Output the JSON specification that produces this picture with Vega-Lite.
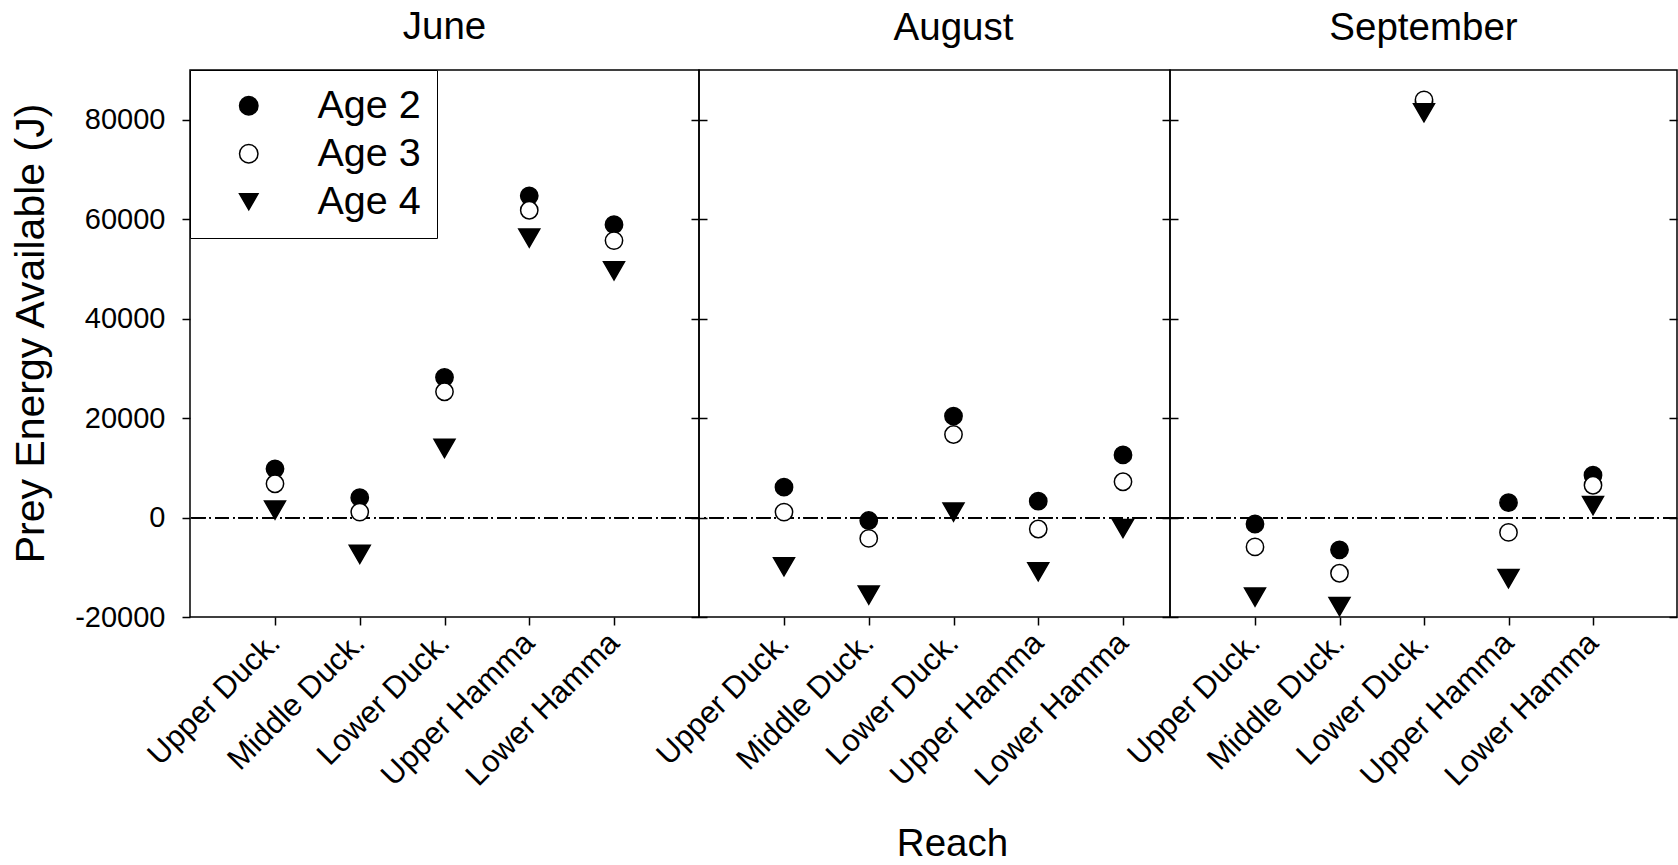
{
  "$schema": "https://vega.github.io/schema/vega-lite/v6.json",
  "background": "white",
  "padding": {"left": 9, "top": 7, "right": 0, "bottom": 0},
  "data": {"values": [
    {"month": "June", "reach": "Upper Duck.", "age": "Age 2", "energy": 9800},
    {"month": "June", "reach": "Upper Duck.", "age": "Age 3", "energy": 6800},
    {"month": "June", "reach": "Upper Duck.", "age": "Age 4", "energy": 1500},
    {"month": "June", "reach": "Middle Duck.", "age": "Age 2", "energy": 4000},
    {"month": "June", "reach": "Middle Duck.", "age": "Age 3", "energy": 1100},
    {"month": "June", "reach": "Middle Duck.", "age": "Age 4", "energy": -7400},
    {"month": "June", "reach": "Lower Duck.", "age": "Age 2", "energy": 28200},
    {"month": "June", "reach": "Lower Duck.", "age": "Age 3", "energy": 25300},
    {"month": "June", "reach": "Lower Duck.", "age": "Age 4", "energy": 13900},
    {"month": "June", "reach": "Upper Hamma", "age": "Age 2", "energy": 64700},
    {"month": "June", "reach": "Upper Hamma", "age": "Age 3", "energy": 61800},
    {"month": "June", "reach": "Upper Hamma", "age": "Age 4", "energy": 56200},
    {"month": "June", "reach": "Lower Hamma", "age": "Age 2", "energy": 58900},
    {"month": "June", "reach": "Lower Hamma", "age": "Age 3", "energy": 55700},
    {"month": "June", "reach": "Lower Hamma", "age": "Age 4", "energy": 49600},
    {"month": "August", "reach": "Upper Duck.", "age": "Age 2", "energy": 6100},
    {"month": "August", "reach": "Upper Duck.", "age": "Age 3", "energy": 1100},
    {"month": "August", "reach": "Upper Duck.", "age": "Age 4", "energy": -9900},
    {"month": "August", "reach": "Middle Duck.", "age": "Age 2", "energy": -600},
    {"month": "August", "reach": "Middle Duck.", "age": "Age 3", "energy": -4200},
    {"month": "August", "reach": "Middle Duck.", "age": "Age 4", "energy": -15600},
    {"month": "August", "reach": "Lower Duck.", "age": "Age 2", "energy": 20400},
    {"month": "August", "reach": "Lower Duck.", "age": "Age 3", "energy": 16700},
    {"month": "August", "reach": "Lower Duck.", "age": "Age 4", "energy": 1100},
    {"month": "August", "reach": "Upper Hamma", "age": "Age 2", "energy": 3300},
    {"month": "August", "reach": "Upper Hamma", "age": "Age 3", "energy": -2300},
    {"month": "August", "reach": "Upper Hamma", "age": "Age 4", "energy": -10900},
    {"month": "August", "reach": "Lower Hamma", "age": "Age 2", "energy": 12600},
    {"month": "August", "reach": "Lower Hamma", "age": "Age 3", "energy": 7200},
    {"month": "August", "reach": "Lower Hamma", "age": "Age 4", "energy": -2200},
    {"month": "September", "reach": "Upper Duck.", "age": "Age 2", "energy": -1300},
    {"month": "September", "reach": "Upper Duck.", "age": "Age 3", "energy": -5900},
    {"month": "September", "reach": "Upper Duck.", "age": "Age 4", "energy": -16000},
    {"month": "September", "reach": "Middle Duck.", "age": "Age 2", "energy": -6500},
    {"month": "September", "reach": "Middle Duck.", "age": "Age 3", "energy": -11200},
    {"month": "September", "reach": "Middle Duck.", "age": "Age 4", "energy": -17900},
    {"month": "September", "reach": "Lower Duck.", "age": "Age 2", "energy": 83600},
    {"month": "September", "reach": "Lower Duck.", "age": "Age 3", "energy": 84000},
    {"month": "September", "reach": "Lower Duck.", "age": "Age 4", "energy": 81400},
    {"month": "September", "reach": "Upper Hamma", "age": "Age 2", "energy": 3000},
    {"month": "September", "reach": "Upper Hamma", "age": "Age 3", "energy": -3000},
    {"month": "September", "reach": "Upper Hamma", "age": "Age 4", "energy": -12300},
    {"month": "September", "reach": "Lower Hamma", "age": "Age 2", "energy": 8500},
    {"month": "September", "reach": "Lower Hamma", "age": "Age 3", "energy": 6500},
    {"month": "September", "reach": "Lower Hamma", "age": "Age 4", "energy": 2400}
  ]},
  "spacing": 0,
  "bounds": "flush",
  "resolve": {"scale": {"shape": "independent", "fill": "independent", "stroke": "independent"}, "legend": {"shape": "independent", "fill": "independent", "stroke": "independent"}},
  "hconcat": [
    {
      "width": 509, "height": 547,
      "title": {"text": "June", "frame": "group", "anchor": "middle", "offset": -8, "baseline": "alphabetic"},
      "transform": [{"filter": "datum.month === 'June'"}],
      "resolve": {"axis": {"y": "independent"}},
      "layer": [
        {
          "mark": {"type": "rule", "strokeDash": [14, 4, 1.5, 4], "color": "black", "strokeWidth": 1.3},
          "encoding": {"y": {"datum": 0, "type": "quantitative", "scale": {"domain": [-20000, 90000], "nice": false, "zero": false},
            "axis": {"orient": "left", "values": [-20000, 0, 20000, 40000, 60000, 80000], "tickSize": 8, "labelPadding": 17, "labelExpr": "'' + datum.value",
              "title": "Prey Energy Available (J)", "titleFontSize": 41, "titleX": -147, "titleY": 263, "titleAlign": "center", "titleBaseline": "alphabetic", "titleAngle": 270}}}
        },
        {
          "mark": {"type": "point", "filled": false, "strokeWidth": 1.5, "opacity": 1},
          "encoding": {
            "x": {"field": "reach", "type": "nominal", "sort": ["Upper Duck.", "Middle Duck.", "Lower Duck.", "Upper Hamma", "Lower Hamma"],
              "scale": {"type": "point", "range": [85, 424], "padding": 0},
              "axis": {"orient": "bottom", "tickSize": 8, "labelAngle": -45, "labelAlign": "right", "labelBaseline": "middle", "labelPadding": 13, "labelFontSize": 31, "labelLimit": 400, "title": null}},
            "y": {"field": "energy", "type": "quantitative", "scale": {"domain": [-20000, 90000], "nice": false, "zero": false},
              "axis": {"orient": "right", "values": [-20000, 0, 20000, 40000, 60000, 80000], "tickSize": 8, "offset": -8, "labels": false, "title": null}},
            "shape": {"field": "age", "type": "nominal", "scale": {"domain": ["Age 2", "Age 3", "Age 4"], "range": ["circle", "circle", "triangle-down"]},
              "legend": {"orient": "top-left", "offset": 0, "title": null, "padding": 16, "rowPadding": 7, "symbolOffset": 23, "labelOffset": 49, "symbolSize": 340, "symbolStrokeWidth": 1.5, "labelFontSize": 39.5, "strokeColor": "black", "fillColor": "white"}},
            "fill": {"field": "age", "type": "nominal", "scale": {"domain": ["Age 2", "Age 3", "Age 4"], "range": ["black", "white", "black"]},
              "legend": {"orient": "top-left", "offset": 0, "title": null, "padding": 16, "rowPadding": 7, "symbolOffset": 23, "labelOffset": 49, "symbolSize": 340, "symbolStrokeWidth": 1.5, "labelFontSize": 39.5, "strokeColor": "black", "fillColor": "white"}},
            "stroke": {"field": "age", "type": "nominal", "scale": {"domain": ["Age 2", "Age 3", "Age 4"], "range": ["black", "black", "black"]},
              "legend": {"orient": "top-left", "offset": 0, "title": null, "padding": 16, "rowPadding": 7, "symbolOffset": 23, "labelOffset": 49, "symbolSize": 340, "symbolStrokeWidth": 1.5, "labelFontSize": 39.5, "strokeColor": "black", "fillColor": "white"}},
            "size": {"condition": {"test": "datum.age === 'Age 4'", "value": 441}, "value": 300}
          }
        }
      ]
    },
    {
      "width": 471, "height": 547,
      "title": {"text": "August", "frame": "group", "anchor": "middle", "offset": -8, "baseline": "alphabetic", "dx": 19},
      "transform": [{"filter": "datum.month === 'August'"}],
      "resolve": {"axis": {"y": "independent"}},
      "layer": [
        {
          "mark": {"type": "rule", "strokeDash": [14, 4, 1.5, 4], "color": "black", "strokeWidth": 1.3},
          "encoding": {"y": {"datum": 0, "type": "quantitative", "scale": {"domain": [-20000, 90000], "nice": false, "zero": false},
            "axis": {"orient": "left", "values": [-20000, 0, 20000, 40000, 60000, 80000], "tickSize": 8, "offset": -8, "labels": false, "title": null}}}
        },
        {
          "mark": {"type": "point", "filled": false, "stroke": "black", "strokeWidth": 1.5, "opacity": 1},
          "encoding": {
            "x": {"field": "reach", "type": "nominal", "sort": ["Upper Duck.", "Middle Duck.", "Lower Duck.", "Upper Hamma", "Lower Hamma"],
              "scale": {"type": "point", "range": [85, 424], "padding": 0},
              "axis": {"orient": "bottom", "tickSize": 8, "labelAngle": -45, "labelAlign": "right", "labelBaseline": "middle", "labelPadding": 13, "labelFontSize": 31, "labelLimit": 400,
                "title": "Reach", "titleFontSize": 38.5, "titleX": 253, "titleY": 238, "titleAlign": "center", "titleBaseline": "alphabetic"}},
            "y": {"field": "energy", "type": "quantitative", "scale": {"domain": [-20000, 90000], "nice": false, "zero": false},
              "axis": {"orient": "right", "values": [-20000, 0, 20000, 40000, 60000, 80000], "tickSize": 8, "offset": -8, "labels": false, "title": null}},
            "shape": {"field": "age", "type": "nominal", "scale": {"domain": ["Age 2", "Age 3", "Age 4"], "range": ["circle", "circle", "triangle-down"]}, "legend": null},
            "fill": {"field": "age", "type": "nominal", "scale": {"domain": ["Age 2", "Age 3", "Age 4"], "range": ["black", "white", "black"]}, "legend": null},
            "size": {"condition": {"test": "datum.age === 'Age 4'", "value": 441}, "value": 300}
          }
        }
      ]
    },
    {
      "width": 507, "height": 547,
      "title": {"text": "September", "frame": "group", "anchor": "middle", "offset": -8, "baseline": "alphabetic"},
      "transform": [{"filter": "datum.month === 'September'"}],
      "resolve": {"axis": {"y": "independent"}},
      "layer": [
        {
          "mark": {"type": "rule", "strokeDash": [14, 4, 1.5, 4], "color": "black", "strokeWidth": 1.3},
          "encoding": {"y": {"datum": 0, "type": "quantitative", "scale": {"domain": [-20000, 90000], "nice": false, "zero": false},
            "axis": {"orient": "left", "values": [-20000, 0, 20000, 40000, 60000, 80000], "tickSize": 8, "offset": -8, "labels": false, "title": null}}}
        },
        {
          "mark": {"type": "point", "filled": false, "stroke": "black", "strokeWidth": 1.5, "opacity": 1},
          "encoding": {
            "x": {"field": "reach", "type": "nominal", "sort": ["Upper Duck.", "Middle Duck.", "Lower Duck.", "Upper Hamma", "Lower Hamma"],
              "scale": {"type": "point", "range": [85, 423], "padding": 0},
              "axis": {"orient": "bottom", "tickSize": 8, "labelAngle": -45, "labelAlign": "right", "labelBaseline": "middle", "labelPadding": 13, "labelFontSize": 31, "labelLimit": 400, "title": null}},
            "y": {"field": "energy", "type": "quantitative", "scale": {"domain": [-20000, 90000], "nice": false, "zero": false},
              "axis": {"orient": "right", "values": [-20000, 0, 20000, 40000, 60000, 80000], "tickSize": 8, "offset": -8, "labels": false, "title": null}},
            "shape": {"field": "age", "type": "nominal", "scale": {"domain": ["Age 2", "Age 3", "Age 4"], "range": ["circle", "circle", "triangle-down"]}, "legend": null},
            "fill": {"field": "age", "type": "nominal", "scale": {"domain": ["Age 2", "Age 3", "Age 4"], "range": ["black", "white", "black"]}, "legend": null},
            "size": {"condition": {"test": "datum.age === 'Age 4'", "value": 441}, "value": 300}
          }
        }
      ]
    }
  ],
  "config": {
    "font": "Liberation Sans",
    "view": {"stroke": "black", "strokeWidth": 1.5},
    "axis": {"domain": false, "grid": false, "minExtent": 0, "tickColor": "black", "tickWidth": 1.5, "labelColor": "black", "titleColor": "black",
      "labelFont": "Liberation Sans", "titleFont": "Liberation Sans", "titleFontWeight": "normal", "labelFontSize": 29, "titleFontSize": 38.5},
    "title": {"font": "Liberation Sans", "fontSize": 38.5, "fontWeight": "normal", "color": "black"},
    "legend": {"labelFont": "Liberation Sans", "labelColor": "black"}
  }
}
